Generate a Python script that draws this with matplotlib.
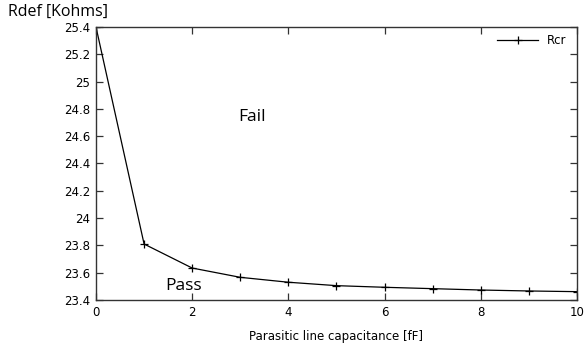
import matplotlib
matplotlib.use("Agg")
import matplotlib.pyplot as plt

cap = [0, 1, 2, 3, 4, 5, 6, 7, 8, 9, 10]
rcr = [25.40, 23.81, 23.634, 23.566, 23.53, 23.505, 23.493, 23.483, 23.473, 23.466, 23.461]
xticks = [0, 2, 4, 6, 8, 10]
yticks = [23.4, 23.6, 23.8, 24.0, 24.2, 24.4, 24.6, 24.8, 25.0, 25.2, 25.4]
ytick_labels = ["23.4", "23.6", "23.8", "24", "24.2", "24.4", "24.6", "24.8", "25", "25.2", "25.4"]

TF = "DejaVu Sans"
TS = 8.5

fig = plt.figure(figsize=(5.86, 3.5), dpi=100)
ax = fig.add_axes([0.1638, 0.1429, 0.8208, 0.78])

ax.plot(cap, rcr, color="black", lw=0.9, marker="+", ms=6, mew=0.9, label="Rcr")
ax.set_xlim(0, 10)
ax.set_ylim(23.4, 25.4)
ax.set_xticks(xticks)
ax.set_xticklabels([str(t) for t in xticks], fontfamily=TF, fontsize=TS)
ax.set_yticks(yticks)
ax.set_yticklabels(ytick_labels, fontfamily=TF, fontsize=TS)
ax.tick_params(direction="in", top=True, right=True, length=5, width=0.9, color="#333333", pad=4)

for s in ax.spines.values():
    s.set_linewidth(1.0)
    s.set_color("#333333")

ax.set_xlabel("Parasitic line capacitance [fF]", fontfamily=TF, fontsize=TS, labelpad=8)
fig.text(0.0137, 0.966, "Rdef [Kohms]", fontfamily="Open Sans", fontsize=11.5, va="center", ha="left")

ax.text(3.25, 24.74, "Fail", fontfamily="Open Sans", fontsize=12.5, ha="center", va="center")
ax.text(1.82, 23.50, "Pass", fontfamily="Open Sans", fontsize=12.5, ha="center", va="center")

leg = ax.legend(loc="upper right", bbox_to_anchor=(0.987, 0.992), frameon=False,
                prop={"family": TF, "size": TS},
                handlelength=3.5, borderaxespad=0.0, handletextpad=0.68, markerfirst=True)

fig.savefig("out.png", dpi=100)
